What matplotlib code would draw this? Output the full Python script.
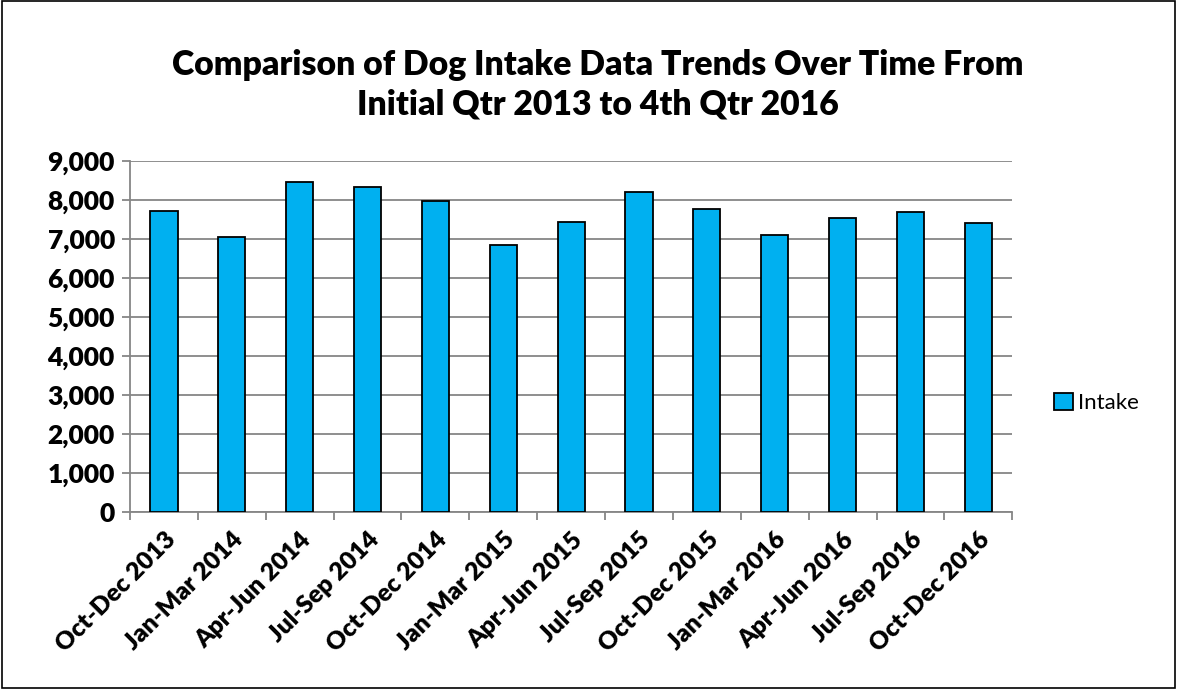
import matplotlib
matplotlib.use("Agg")
import matplotlib.pyplot as plt
from matplotlib.patches import Rectangle

plt.rcParams['font.family'] = ['Lato', 'DejaVu Sans']

quarters = ["Oct-Dec 2013", "Jan-Mar 2014", "Apr-Jun 2014", "Jul-Sep 2014",
            "Oct-Dec 2014", "Jan-Mar 2015", "Apr-Jun 2015", "Jul-Sep 2015",
            "Oct-Dec 2015", "Jan-Mar 2016", "Apr-Jun 2016", "Jul-Sep 2016",
            "Oct-Dec 2016"]
intake = [7720, 7040, 8460, 8330, 7975, 6840, 7420, 8195, 7770, 7095, 7530, 7690, 7395]
y_ticks = [0, 1000, 2000, 3000, 4000, 5000, 6000, 7000, 8000, 9000]

fig = plt.figure(figsize=(11.77, 6.89), dpi=100)
ax = fig.add_axes([0.1105, 0.2573, 0.7495, 0.5095])

x = range(len(quarters))
ax.bar(x, intake, width=0.4, color="#00B0F0", edgecolor="black", linewidth=1.3,
       label="Intake", zorder=3)

ax.set_xlim(-0.5, len(quarters) - 0.5)
ax.set_ylim(0, 9000)
ax.set_yticks(y_ticks)
ax.set_yticklabels([f"{v:,}" for v in y_ticks], fontsize=19, fontweight="heavy")
ax.yaxis.grid(True, color="#868686", linewidth=1.3, zorder=0)

# category ticks sit between the bars, like Excel
ax.set_xticks([i - 0.5 for i in range(len(quarters) + 1)])
ax.set_xticklabels([])
ax.set_xticks(list(x), minor=True)
ax.set_xticklabels(quarters, minor=True, rotation=45, ha="right",
                   rotation_mode="anchor", fontsize=17.8, fontweight="heavy")
ax.tick_params(axis="x", which="major", length=6, color="#868686", width=1.3)
ax.tick_params(axis="x", which="minor", length=0, pad=12)
ax.tick_params(axis="y", length=6, color="#868686", width=1.3, pad=5)

for side in ["top", "right"]:
    ax.spines[side].set_visible(False)
for side in ["left", "bottom"]:
    ax.spines[side].set_color("#868686")
    ax.spines[side].set_linewidth(1.3)

fig.text(0.508, 0.877, "Comparison of Dog Intake Data Trends Over Time From\nInitial Qtr 2013 to 4th Qtr 2016",
         ha="center", va="center", fontsize=24.3, fontweight="heavy", linespacing=1.3)

ax.legend(loc="center left", bbox_to_anchor=(1.025, 0.31), frameon=False,
          fontsize=16, handlelength=0.85, handleheight=0.85, handletextpad=0.2)

fig.patches.append(Rectangle((0.002, 0.002), 0.996, 0.996, transform=fig.transFigure,
                             fill=False, edgecolor="black", linewidth=1.2))

fig.savefig("out.png", dpi=100)
